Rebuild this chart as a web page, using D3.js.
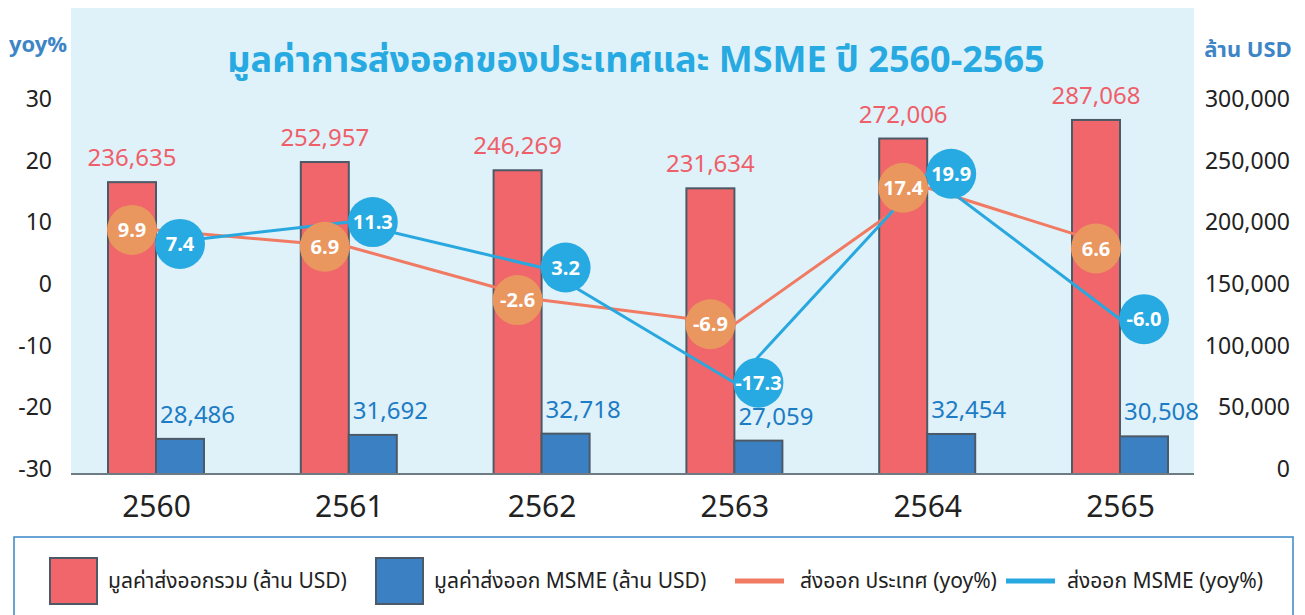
<!DOCTYPE html>
<html>
<head>
<meta charset="utf-8">
<script src="https://cdn.jsdelivr.net/npm/d3@7"></script>
<style>
  body { margin: 0; background: #fff; }
  text { font-family: "Noto Sans Thai", "Noto Sans", Lato, sans-serif; }
</style>
</head>
<body>
<script>
// data
let years = ["2560", "2561", "2562", "2563", "2564", "2565"];
let totalExport = [236635, 252957, 246269, 231634, 272006, 287068];   // ล้าน USD
let msmeExport = [28486, 31692, 32718, 27059, 32454, 30508];          // ล้าน USD
let totalYoy = [9.9, 6.9, -2.6, -6.9, 17.4, 6.6];
let msmeYoy = [7.4, 11.3, 3.2, -17.3, 19.9, -6.0];
let yoyTicks = [-30, -20, -10, 0, 10, 20, 30];
let usdTicks = [0, 50000, 100000, 150000, 200000, 250000, 300000];

let W = 1305, H = 615;
let plotLeft = 71, plotRight = 1194, plotTop = 8, baseY = 474;
let barW = 48;

let viz = d3.select("body")
  .append("svg")
    .attr("width", W)
    .attr("height", H);

// scales
let x = d3.scalePoint().domain(years).range([156, 1120]);
let yL = d3.scaleLinear().domain([-30, 30]).range([baseY, 104]);
// the yoy lines in the original sit on a slightly squeezed scale
let yLine = d3.scaleLinear().domain([-30, 30]).range([454, 117]);
let yR = d3.scaleLinear().domain([0, 300000]).range([baseY, 104]);

// plot background
viz.append("rect")
  .attr("x", plotLeft).attr("y", plotTop)
  .attr("width", plotRight - plotLeft).attr("height", baseY - plotTop)
  .attr("fill", "#dff1f9");

// title
viz.append("text")
  .attr("x", 636).attr("y", 72)
  .attr("text-anchor", "middle")
  .attr("font-size", 36).attr("font-weight", 700)
  .attr("fill", "#27a9e1")
  .text("มูลค่าการส่งออกของประเทศและ MSME ปี 2560-2565");

// axis titles
viz.append("text")
  .attr("x", 38).attr("y", 52)
  .attr("text-anchor", "middle")
  .attr("font-size", 22).attr("font-weight", 700)
  .attr("fill", "#3d85c6")
  .text("yoy%");
viz.append("text")
  .attr("x", 1248).attr("y", 57)
  .attr("text-anchor", "middle")
  .attr("font-size", 22).attr("font-weight", 700)
  .attr("fill", "#3d85c6")
  .text("ล้าน USD");

// left axis
let leftAxis = viz.append("g")
  .attr("transform", "translate(60,-5)")
  .call(d3.axisLeft(yL).tickValues(yoyTicks).tickSize(0).tickPadding(8).tickFormat(d => String(d)));
leftAxis.select(".domain").remove();
leftAxis.selectAll("text").attr("font-size", 23).attr("fill", "#222");

// right axis (labels right aligned at the edge)
let rightAxis = viz.append("g")
  .attr("transform", "translate(1298,-5)")
  .call(d3.axisLeft(yR).tickValues(usdTicks).tickSize(0).tickPadding(8).tickFormat(d3.format(",")));
rightAxis.select(".domain").remove();
rightAxis.selectAll("text").attr("font-size", 23).attr("fill", "#222");

// bars
let rows = years.map((y, i) => ({year: y, total: totalExport[i], msme: msmeExport[i], ty: totalYoy[i], my: msmeYoy[i]}));

viz.selectAll(".totalbar").data(rows).enter()
  .append("rect")
    .attr("class", "totalbar")
    .attr("x", d => x(d.year) - barW)
    .attr("y", d => yR(d.total))
    .attr("width", barW)
    .attr("height", d => yR(0) - yR(d.total))
    .attr("fill", "#f0666a")
    .attr("stroke", "#4b5a66")
    .attr("stroke-width", 2);

viz.selectAll(".msmebar").data(rows).enter()
  .append("rect")
    .attr("class", "msmebar")
    .attr("x", d => x(d.year))
    .attr("y", d => yR(d.msme))
    .attr("width", barW)
    .attr("height", d => yR(0) - yR(d.msme))
    .attr("fill", "#3b80c3")
    .attr("stroke", "#4b5a66")
    .attr("stroke-width", 2);

// baseline
viz.append("line")
  .attr("x1", plotLeft).attr("x2", plotRight)
  .attr("y1", baseY).attr("y2", baseY)
  .attr("stroke", "#6f7b84").attr("stroke-width", 2);

// bar value labels
viz.selectAll(".totallabel").data(rows).enter()
  .append("text")
    .attr("x", d => x(d.year) - barW / 2)
    .attr("y", d => yR(d.total) - 16)
    .attr("text-anchor", "middle")
    .attr("font-size", 24)
    .attr("fill", "#ef5f6a")
    .text(d => d3.format(",")(d.total));

viz.selectAll(".msmelabel").data(rows).enter()
  .append("text")
    .attr("x", d => x(d.year) + 4)
    .attr("y", d => yR(d.msme) - 16)
    .attr("text-anchor", "start")
    .attr("font-size", 24)
    .attr("fill", "#1c7cc4")
    .text(d => d3.format(",")(d.msme));

// x labels
let bottomAxis = viz.append("g")
  .attr("transform", "translate(0," + baseY + ")")
  .call(d3.axisBottom(x).tickSize(0).tickPadding(22));
bottomAxis.select(".domain").remove();
bottomAxis.selectAll("text").attr("font-size", 30).attr("font-weight", 400).attr("fill", "#222");

// lines
let totalLine = d3.line().x(d => x(d.year)).y(d => yLine(d.ty));
let msmeLine = d3.line().x(d => x(d.year)).y(d => yLine(d.my));

viz.append("path").datum(rows)
  .attr("d", totalLine)
  .attr("fill", "none").attr("stroke", "#f07a62").attr("stroke-width", 3);
viz.append("path").datum(rows)
  .attr("d", msmeLine)
  .attr("fill", "none").attr("stroke", "#29a8e0").attr("stroke-width", 3);

// circle labels
let fmt1 = d => d.toFixed(1);

let tdots = viz.selectAll(".tdot").data(rows).enter()
  .append("g")
    .attr("class", "tdot")
    .attr("transform", d => "translate(" + (x(d.year) - barW / 2) + "," + yLine(d.ty) + ")");
tdots.append("circle").attr("r", 25).attr("fill", "#e9965f");
tdots.append("text")
  .attr("text-anchor", "middle").attr("dy", "0.36em")
  .attr("font-size", 20).attr("font-weight", 700).attr("fill", "#fff")
  .text(d => fmt1(d.ty));

let mdots = viz.selectAll(".mdot").data(rows).enter()
  .append("g")
    .attr("class", "mdot")
    .attr("transform", d => "translate(" + (x(d.year) + barW / 2) + "," + yLine(d.my) + ")");
mdots.append("circle").attr("r", 25).attr("fill", "#27aae1");
mdots.append("text")
  .attr("text-anchor", "middle").attr("dy", "0.36em")
  .attr("font-size", 20).attr("font-weight", 700).attr("fill", "#fff")
  .text(d => fmt1(d.my));

// legend
viz.append("rect")
  .attr("x", 14).attr("y", 537)
  .attr("width", 1279).attr("height", 100)
  .attr("fill", "none").attr("stroke", "#3a86c8").attr("stroke-width", 1.5);

let legendItems = [
  {label: "มูลค่าส่งออกรวม (ล้าน USD)", type: "box", color: "#f0666a", x: 50, tx: 108},
  {label: "มูลค่าส่งออก MSME (ล้าน USD)", type: "box", color: "#3b80c3", x: 376, tx: 434},
  {label: "ส่งออก ประเทศ (yoy%)", type: "line", color: "#f07a62", x: 735, tx: 800},
  {label: "ส่งออก MSME (yoy%)", type: "line", color: "#29a8e0", x: 1006, tx: 1067}
];

let leg = viz.selectAll(".legend").data(legendItems).enter()
  .append("g").attr("class", "legend");

leg.filter(d => d.type === "box").append("rect")
  .attr("x", d => d.x).attr("y", 558)
  .attr("width", 47).attr("height", 46)
  .attr("fill", d => d.color)
  .attr("stroke", "#4b5a66").attr("stroke-width", 2);

leg.filter(d => d.type === "line").append("line")
  .attr("x1", d => d.x).attr("x2", d => d.x + 49)
  .attr("y1", 581).attr("y2", 581)
  .attr("stroke", d => d.color).attr("stroke-width", 5);

leg.append("text")
  .attr("x", d => d.tx).attr("y", 581)
  .attr("dy", "0.35em")
  .attr("font-size", 21).attr("fill", "#222")
  .text(d => d.label);
</script>
</body>
</html>
